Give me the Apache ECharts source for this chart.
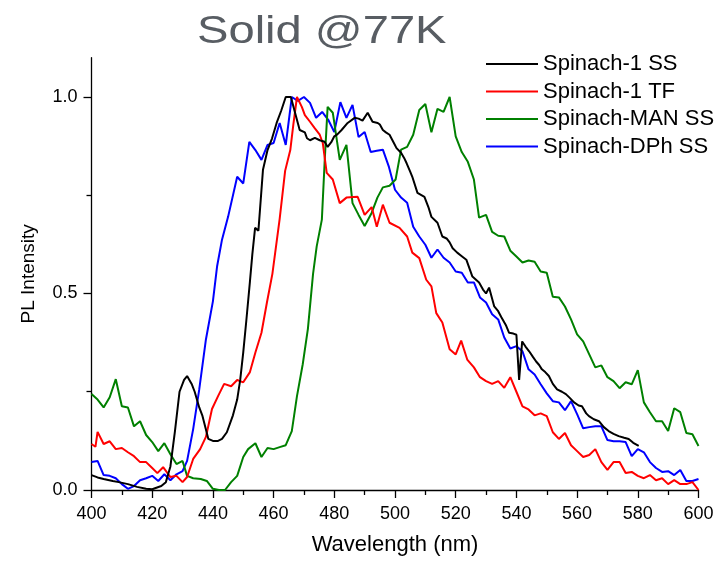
<!DOCTYPE html>
<html>
<head>
<meta charset="utf-8">
<script src="https://cdn.jsdelivr.net/npm/echarts@6/dist/echarts.min.js"></script>
<style>html,body{margin:0;padding:0;background:#fff}#c{width:720px;height:561px}</style>
</head>
<body>
<div id="c"></div>
<script>
var titleText = 'Solid @77K';
var xName = 'Wavelength (nm)';
var yName = 'PL Intensity';
var seriesNames = ['Spinach-1 SS', 'Spinach-1 TF', 'Spinach-MAN SS', 'Spinach-DPh SS'];
var yTickLabels = [0, 0.5, 1.0];
var yMinorTicks = [0.25, 0.75];

var blackX = [400,402,404,407,409,412,415,418,420,423,424.5,426,427.5,429,430.5,431.5,433,434,435.5,436.5,438.5,440,441.7,443,444.6,446.6,448,449,450,451,452.2,453,453.9,455,456.5,458,459.5,461,462.5,464,465.7,467,468.6,470.3,471,472,473.6,475.2,476.8,477.8,479,480,481,482.4,484.4,486.7,488,489.3,491,492.6,494.3,495,496,497,498.2,499.5,500.5,502,503,503.8,505,505.7,507.4,509.7,511,512,514,515.6,517,518,519,520.5,522,523.5,525.5,527.7,529,530,531,532.7,534,535,536.5,537.6,539,540,540.9,541.9,543,544.2,545.5,546.5,547.5,548.4,549.5,550.7,552,553.4,555,556.3,557.5,559,560.5,561.6,563,563.9,565.5,567.2,568.8,570.4,572,573.7,575.5,577,578.5,580.3];
var blackY = [0.038,0.032,0.028,0.023,0.02,0.015,0.008,0.003,0.002,0.01,0.02,0.06,0.15,0.25,0.28,0.29,0.27,0.25,0.21,0.19,0.13,0.125,0.125,0.13,0.147,0.19,0.23,0.28,0.35,0.43,0.53,0.60,0.667,0.66,0.815,0.865,0.895,0.934,0.965,1.0,1.0,0.962,0.916,0.91,0.895,0.89,0.896,0.89,0.886,0.873,0.885,0.9,0.905,0.916,0.934,0.947,0.945,0.94,0.96,0.937,0.934,0.93,0.916,0.91,0.904,0.885,0.87,0.858,0.845,0.832,0.81,0.797,0.756,0.746,0.72,0.695,0.68,0.645,0.64,0.63,0.615,0.604,0.595,0.586,0.543,0.528,0.51,0.50,0.515,0.467,0.455,0.44,0.42,0.40,0.398,0.395,0.28,0.378,0.365,0.353,0.338,0.327,0.318,0.307,0.30,0.29,0.27,0.256,0.25,0.244,0.235,0.223,0.215,0.213,0.195,0.188,0.18,0.175,0.16,0.15,0.143,0.137,0.133,0.13,0.12,0.112];

var redX = [400,401.3,402,404,406,408,410,412,414,416,418,420,421.7,423.6,426,428,430,431.5,433.5,435.8,437.7,439.7,441.7,443.7,446,448,450,452.2,454,456,457.8,459.6,462,463.8,465.5,466.5,467.7,469.3,470.3,472,473.6,475.2,476.2,477.5,479.5,481.8,484,487.7,490,492.3,494,496,498.2,501.5,504,505.7,508,510.3,512,513.6,515.6,518,520,521.8,523.8,526,528,530,532,534,536,538,540,542,544,546,548,550,552,554,556,558,560,562,564,566,568,570,572,574,576,578,580,582,584,586,588,590,592,594,596,598,600];
var redY = [0.117,0.11,0.148,0.117,0.124,0.104,0.107,0.096,0.086,0.071,0.071,0.056,0.043,0.058,0.033,0.036,0.02,0.033,0.079,0.104,0.135,0.206,0.239,0.27,0.264,0.28,0.274,0.30,0.35,0.40,0.477,0.55,0.69,0.812,0.865,0.93,1.0,0.975,0.954,0.937,0.92,0.904,0.883,0.807,0.79,0.73,0.744,0.746,0.70,0.72,0.67,0.726,0.68,0.667,0.645,0.604,0.59,0.535,0.518,0.45,0.426,0.358,0.345,0.38,0.332,0.312,0.287,0.277,0.27,0.277,0.26,0.287,0.25,0.213,0.205,0.19,0.195,0.188,0.147,0.13,0.145,0.114,0.099,0.084,0.089,0.104,0.071,0.051,0.071,0.071,0.043,0.046,0.036,0.03,0.038,0.025,0.03,0.015,0.025,0.015,0.015,0.02,0.0];

var greenX = [400,402,404,406,408,410,412,414,416,418,420,422,424,426,428,430,431.5,433.5,436,438,440,442,444,446,448,450,451.6,454,456,458,460,462,464,466,467.7,469.6,471.3,473,474.2,475.9,476.8,477.8,479.5,481.8,484,486,488,490,492.3,494.2,496,498.2,500.2,502,504,506,508,510,512,514,516,518,520,522,524,526,527.7,530,532,534,536,538,540,542,544,546,548,550,552,554,556,558,560,562,564,566,568,570,572,574,576,578,580,582,584,586,588,590,592,594,596,598,600];
var greenY = [0.244,0.23,0.21,0.236,0.282,0.213,0.21,0.162,0.175,0.14,0.122,0.099,0.119,0.091,0.066,0.074,0.036,0.03,0.028,0.023,0.003,0.0,0.0,0.02,0.036,0.084,0.104,0.119,0.084,0.107,0.104,0.109,0.114,0.15,0.239,0.32,0.41,0.55,0.62,0.688,0.832,0.975,0.96,0.84,0.878,0.73,0.70,0.672,0.705,0.744,0.77,0.774,0.79,0.866,0.873,0.904,0.967,0.982,0.91,0.97,0.962,1.0,0.9,0.86,0.835,0.79,0.693,0.70,0.657,0.647,0.645,0.609,0.594,0.579,0.584,0.581,0.556,0.553,0.492,0.49,0.467,0.434,0.396,0.378,0.345,0.312,0.317,0.287,0.277,0.259,0.274,0.269,0.305,0.223,0.198,0.175,0.175,0.15,0.208,0.198,0.145,0.142,0.112];

var blueX = [400,402,404,406,408,410,412,414,416,418,420,422,424,426,428,430,431.5,433.5,435.5,437.7,440,441.4,443,445,448,450,452,454,456,458,460,462,464,466,468,470,472,474,476,478,480,482,484,486,488,490,492,494,496,498,500,502,504,506,508,510,512,514,516,518,520,522,524,526,528,530,532,534,536,538,540,542,544,546,548,550,552,554,556,558,560,562,564,566,568,570,572,574,576,578,580,582,584,586,588,590,592,594,596,598,600];
var blueY = [0.071,0.074,0.038,0.036,0.03,0.015,0.003,0.01,0.025,0.03,0.036,0.023,0.04,0.025,0.04,0.048,0.074,0.155,0.256,0.383,0.48,0.57,0.637,0.695,0.797,0.78,0.886,0.865,0.84,0.878,0.883,0.934,0.878,1.0,0.99,1.0,0.985,0.947,0.962,0.942,0.911,0.987,0.947,0.98,0.898,0.911,0.86,0.863,0.866,0.822,0.764,0.744,0.731,0.67,0.645,0.624,0.591,0.612,0.591,0.579,0.556,0.553,0.528,0.528,0.49,0.477,0.447,0.434,0.388,0.36,0.366,0.353,0.307,0.294,0.269,0.246,0.226,0.223,0.203,0.226,0.193,0.157,0.16,0.162,0.162,0.127,0.124,0.124,0.122,0.086,0.104,0.096,0.071,0.056,0.046,0.048,0.038,0.051,0.023,0.023,0.028];

function pairs(xs, ys) { return xs.map(function (x, i) { return [x, ys[i]]; }); }

var FONT = '"Liberation Sans", Arial, sans-serif';
var colors = ['#000000', '#ff0000', '#008000', '#0000ff'];
var datasets = [pairs(blackX, blackY), pairs(redX, redY), pairs(greenX, greenY), pairs(blueX, blueY)];

var chart = echarts.init(document.getElementById('c'), null, { renderer: 'canvas' });
chart.setOption({
  animation: false,
  backgroundColor: '#ffffff',
  textStyle: { fontFamily: FONT },
  graphic: [{
    type: 'text',
    x: 197, y: 33, scaleX: 1.24,
    style: { text: titleText, font: '38px ' + FONT, fill: '#585d63', verticalAlign: 'middle', align: 'left' }
  }],
  legend: {
    orient: 'vertical',
    left: 481, top: 48,
    itemWidth: 52, itemHeight: 2, itemGap: 5.5,
    icon: 'rect',
    textStyle: { fontSize: 22, color: '#000', fontFamily: FONT },
    data: seriesNames
  },
  grid: { left: 91.5, right: 21.5, top: 57.7, bottom: 69.3, containLabel: false },
  xAxis: {
    type: 'value', min: 400, max: 600, interval: 20,
    name: xName, nameLocation: 'middle', nameGap: 44,
    nameTextStyle: { fontSize: 22, color: '#000', fontFamily: FONT },
    axisLine: { show: true, onZero: false, lineStyle: { color: '#000', width: 1.3 } },
    axisTick: { show: true, length: 8, lineStyle: { color: '#000', width: 1.3 } },
    minorTick: { show: true, splitNumber: 2, length: 5, lineStyle: { color: '#000', width: 1.3 } },
    axisLabel: { fontSize: 18, color: '#000', margin: 15, fontFamily: FONT },
    splitLine: { show: false }
  },
  yAxis: [{
    type: 'value', min: 0, max: 1.1,
    name: yName, nameLocation: 'middle', nameGap: 53,
    nameTextStyle: { fontSize: 19, color: '#000', fontFamily: FONT },
    axisLine: { show: true, onZero: false, lineStyle: { color: '#000', width: 1.3 } },
    axisTick: { show: true, length: 8, customValues: yTickLabels, lineStyle: { color: '#000', width: 1.3 } },
    axisLabel: { fontSize: 18, color: '#000', margin: 14, customValues: yTickLabels, fontFamily: FONT,
      formatter: function (v) { return v.toFixed(1); } },
    splitLine: { show: false }
  }, {
    type: 'value', min: 0, max: 1.1, position: 'left',
    axisLine: { show: false },
    axisTick: { show: true, length: 5, customValues: yMinorTicks, lineStyle: { color: '#000', width: 1.3 } },
    axisLabel: { show: false },
    splitLine: { show: false }
  }],
  series: seriesNames.map(function (n, i) {
    return {
      name: n, type: 'line', data: datasets[i], yAxisIndex: 0,
      showSymbol: false, symbol: 'none',
      itemStyle: { color: colors[i] },
      lineStyle: { color: colors[i], width: 2 },
      z: 10 - i
    };
  })
});
</script>
</body>
</html>
